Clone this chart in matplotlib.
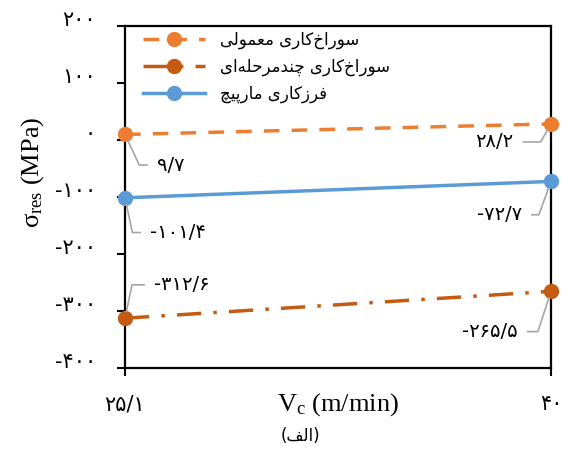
import matplotlib
matplotlib.use("Agg")
import matplotlib.pyplot as plt
import matplotlib.transforms as mtransforms

plt.rcParams['font.family'] = ['DejaVu Sans']
plt.rcParams['mathtext.fontset'] = 'custom'
plt.rcParams['mathtext.rm'] = 'Liberation Serif'
plt.rcParams['mathtext.it'] = 'Liberation Serif:italic'

# data
speeds = ['۲۵/۱', '۴۰']
conventional = [9.7, 28.2]
multistep = [-312.6, -265.5]
helical = [-101.4, -72.7]
labels_conv = ['۹/۷', '۲۸/۲']
labels_multi = ['-۳۱۲/۶', '-۲۶۵/۵']
labels_hel = ['-۱۰۱/۴', '-۷۲/۷']
y_ticks = [200, 100, 0, -100, -200, -300, -400]
y_ticklabels = ['۲۰۰', '۱۰۰', '۰', '-۱۰۰', '-۲۰۰', '-۳۰۰', '-۴۰۰']
names = ['سوراخ‌کاری معمولی', 'سوراخ‌کاری چندمرحله‌ای', 'فرزکاری مارپیچ']

# minimal arabic shaping: isolated, final, initial, medial
FORMS = {
    'ا': (0xFE8D, 0xFE8E), 'د': (0xFEA9, 0xFEAA), 'ر': (0xFEAD, 0xFEAE),
    'ز': (0xFEAF, 0xFEB0), 'و': (0xFEED, 0xFEEE),
    'س': (0xFEB1, 0xFEB2, 0xFEB3, 0xFEB4), 'خ': (0xFEA5, 0xFEA6, 0xFEA7, 0xFEA8),
    'ح': (0xFEA1, 0xFEA2, 0xFEA3, 0xFEA4), 'ع': (0xFEC9, 0xFECA, 0xFECB, 0xFECC),
    'ف': (0xFED1, 0xFED2, 0xFED3, 0xFED4), 'ل': (0xFEDD, 0xFEDE, 0xFEDF, 0xFEE0),
    'م': (0xFEE1, 0xFEE2, 0xFEE3, 0xFEE4), 'ن': (0xFEE5, 0xFEE6, 0xFEE7, 0xFEE8),
    'ه': (0xFEE9, 0xFEEA, 0xFEEB, 0xFEEC), 'ک': (0xFB8E, 0xFB8F, 0xFB90, 0xFB91),
    'ی': (0xFBFC, 0xFBFD, 0xFBFE, 0xFBFF), 'پ': (0xFB56, 0xFB57, 0xFB58, 0xFB59),
    'چ': (0xFB7A, 0xFB7B, 0xFB7C, 0xFB7D),
}
MIRROR = {'(': ')', ')': '('}


def shape(text):
    out = []
    for i, c in enumerate(text):
        if c not in FORMS:
            if c != '\u200c':
                out.append(MIRROR.get(c, c))
            continue
        prev = text[i - 1] if i > 0 else ''
        nxt = text[i + 1] if i + 1 < len(text) else ''
        join_prev = prev in FORMS and len(FORMS[prev]) == 4
        join_next = len(FORMS[c]) == 4 and nxt in FORMS
        f = FORMS[c]
        if join_prev and join_next:
            out.append(chr(f[3]))
        elif join_prev:
            out.append(chr(f[1]))
        elif join_next:
            out.append(chr(f[2]))
        else:
            out.append(chr(f[0]))
    return ''.join(reversed(out))


orange = '#ED7D31'
brown = '#C55A11'
blue = '#5B9BD5'
gray = '#A6A6A6'

fig = plt.figure(figsize=(5.62, 4.53), dpi=100)
ax = fig.add_axes([125 / 562, 1 - 368 / 453, 426 / 562, 342 / 453])
x = [0, 1]

ax.plot(x, conventional, color=orange, lw=2.5, ls=(0, (4.5, 3.5)), marker='o',
        ms=10, clip_on=False, zorder=3, label=shape(names[0]))
ax.plot(x, multistep, color=brown, lw=2.5, ls=(0, (7, 3.5, 1, 3.5)), marker='o',
        ms=10, clip_on=False, zorder=3, label=shape(names[1]))
ax.plot(x, helical, color=blue, lw=2.5, marker='o', ms=10, clip_on=False,
        zorder=3, label=shape(names[2]))


def callout(xv, yv, text, dx, dy, ha, angle):
    ax.annotate(text, xy=(xv, yv), xytext=(dx, dy), textcoords='offset points',
                ha=ha, va='center', fontsize=14,
                arrowprops=dict(arrowstyle='-', color=gray, lw=1.2,
                                shrinkA=5, shrinkB=5,
                                relpos=(0 if ha == 'left' else 1, 0.5),
                                connectionstyle=f'angle,angleA=0,angleB={angle},rad=0'))


callout(x[0], conventional[0], labels_conv[0], 23, -22, 'left', -65)
callout(x[1], conventional[1], labels_conv[1], -27, -13, 'right', 60)
callout(x[0], helical[0], labels_hel[0], 18, -25, 'left', -78)
callout(x[1], helical[1], labels_hel[1], -21, -24, 'right', 70)
callout(x[0], multistep[0], labels_multi[0], 21, 24, 'left', 78)
callout(x[1], multistep[1], labels_multi[1], -24, -29, 'right', 72)

ax.set_xlim(0, 1)
ax.set_ylim(-400, 200)
ax.set_xticks(x)
ax.set_xticklabels(speeds, fontsize=15)
ax.set_yticks(y_ticks)
ax.set_yticklabels(y_ticklabels, fontsize=15)
ax.tick_params(direction='out', length=6, width=1.5)
ax.tick_params(axis='x', pad=13)
ax.tick_params(axis='y', pad=15)
shift = mtransforms.ScaledTranslation(0, 6 / 72, fig.dpi_scale_trans)
for lab in ax.get_yticklabels():
    lab.set_transform(lab.get_transform() + shift)
for s in ax.spines.values():
    s.set_linewidth(1.6)

ax.set_xlabel(r'$\mathrm{V_c}$ (m/min)', fontsize=19, family='Liberation Serif', va='center')
ax.xaxis.set_label_coords(0.5, -0.108)
ax.set_ylabel(r'$\mathrm{σ_{res}}$ (MPa)', fontsize=19, family='Liberation Serif', va='center')
ax.yaxis.set_label_coords(-0.218, 0.573)
fig.text(300 / 562, 1 - 436 / 453, shape('(الف)'), ha='center', va='center', fontsize=12)

ax.legend(loc='upper left', bbox_to_anchor=(0.042, 0.985), fontsize=12,
          handlelength=3.7, frameon=False, borderaxespad=0, borderpad=0,
          labelspacing=0.5, handletextpad=0.9)

fig.savefig('out.png', dpi=100)
